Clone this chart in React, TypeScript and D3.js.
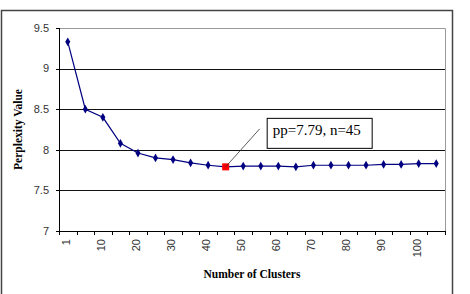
import * as d3 from "d3"

const clusters = [1, 5, 10, 15, 20, 25, 30, 35, 40, 45, 50, 55, 60, 65, 70, 75, 80, 85, 90, 95, 100, 105]
const perplexity = [
  9.33, 8.5, 8.4, 8.08, 7.96, 7.9, 7.88, 7.84, 7.81, 7.79, 7.8, 7.8, 7.8, 7.79, 7.81, 7.81, 7.81, 7.81, 7.82,
  7.82, 7.83, 7.83,
]
const yTicks = [7, 7.5, 8, 8.5, 9, 9.5]
const xLabels = [1, 10, 20, 30, 40, 50, 60, 70, 80, 90, 100]
const bestN = 45
const bestLabel = "pp=7.79, n=45"

const W = 470
const H = 294
const m = { left: 59, right: 445, top: 28, bottom: 231 }

export default function App() {
  const x = d3
    .scaleBand<number>()
    .domain(clusters)
    .range([m.left, m.right])
  const bw = x.bandwidth()
  const cx = (c: number) => x(c)! + bw / 2
  const y = d3.scaleLinear().domain([7, 9.5]).range([m.bottom, m.top])

  const line = d3
    .line<number>()
    .x((_, i) => cx(clusters[i]))
    .y((d) => y(d))

  const bestIdx = clusters.indexOf(bestN)
  const bx = cx(bestN)
  const by = y(perplexity[bestIdx])

  const tickXs = clusters.map((c) => x(c)!).concat([m.right])
  const sans = "'Liberation Sans', Arial, sans-serif"
  const serif = "'Liberation Serif', 'Times New Roman', serif"

  return (
    <svg
      width={W}
      height={H}
      style={{ position: "absolute", left: 0, top: 0, background: "#fff" }}
    >
      {/* outer chart frame */}
      <path d={`M1.5,${H} V10.5 H452.5 V${H}`} fill="none" stroke="#444" strokeWidth={1.5} />

      {/* gridlines */}
      {yTicks
        .filter((t) => t > 7 && t < 9.5)
        .map((t) => (
          <line key={t} x1={m.left} x2={m.right} y1={Math.round(y(t)) + 0.5} y2={Math.round(y(t)) + 0.5} stroke="#111" />
        ))}
      {/* plot area border */}
      <path
        d={`M${m.left},${m.top + 0.5} H${m.right + 0.5} V${m.bottom}`}
        fill="none"
        stroke="#999"
      />

      {/* y axis */}
      <line x1={m.left + 0.5} x2={m.left + 0.5} y1={m.top} y2={m.bottom + 0.5} stroke="#000" />
      {yTicks.map((t) => (
        <g key={t}>
          <line x1={m.left - 3} x2={m.left} y1={Math.round(y(t)) + 0.5} y2={Math.round(y(t)) + 0.5} stroke="#000" />
          <text x={49} y={y(t)} dy="0.35em" textAnchor="end" fontFamily={sans} fontSize={11} fill="#333">
            {t}
          </text>
        </g>
      ))}

      {/* x axis */}
      <line x1={m.left} x2={m.right + 0.5} y1={m.bottom + 0.5} y2={m.bottom + 0.5} stroke="#000" />
      {tickXs.map((tx, i) => (
        <line key={i} x1={Math.round(tx) + 0.5} x2={Math.round(tx) + 0.5} y1={m.bottom} y2={m.bottom + 4} stroke="#000" />
      ))}
      {xLabels.map((c) => (
        <text
          key={c}
          transform={`translate(${cx(c) - 2},${m.bottom + 8}) rotate(-90)`}
          dy="0.35em"
          textAnchor="end"
          fontFamily={sans}
          fontSize={11}
          fill="#333"
        >
          {c}
        </text>
      ))}

      {/* series */}
      <path d={line(perplexity) ?? ""} fill="none" stroke="#000080" strokeWidth={1.2} />
      {perplexity.map((v, i) =>
        i === bestIdx ? null : (
          <path
            key={i}
            d={d3.symbol(d3.symbolDiamond, 22)() ?? ""}
            transform={`translate(${cx(clusters[i])},${y(v)})`}
            fill="#000080"
          />
        ),
      )}
      <rect x={bx - 3.5} y={by - 3.5} width={7} height={7} fill="#ff0000" />

      {/* annotation */}
      <line x1={bx} y1={by} x2={bx + 34} y2={by - 38} stroke="#333" strokeWidth={0.8} />
      <rect x={bx + 41.5} y={by - 48.5} width={105} height={30} fill="#fff" stroke="#000" />
      <text x={bx + 47} y={by - 32} fontFamily={serif} fontSize={15} fill="#000">
        {bestLabel}
      </text>

      {/* titles */}
      <text
        x={(m.left + m.right) / 2}
        y={278}
        textAnchor="middle"
        fontFamily={serif}
        fontWeight="bold"
        fontSize={11.5}
      >
        Number of Clusters
      </text>
      <text
        transform={`translate(22,${(m.top + m.bottom) / 2}) rotate(-90)`}
        textAnchor="middle"
        fontFamily={serif}
        fontWeight="bold"
        fontSize={11.5}
      >
        Perplexity Value
      </text>
    </svg>
  )
}
